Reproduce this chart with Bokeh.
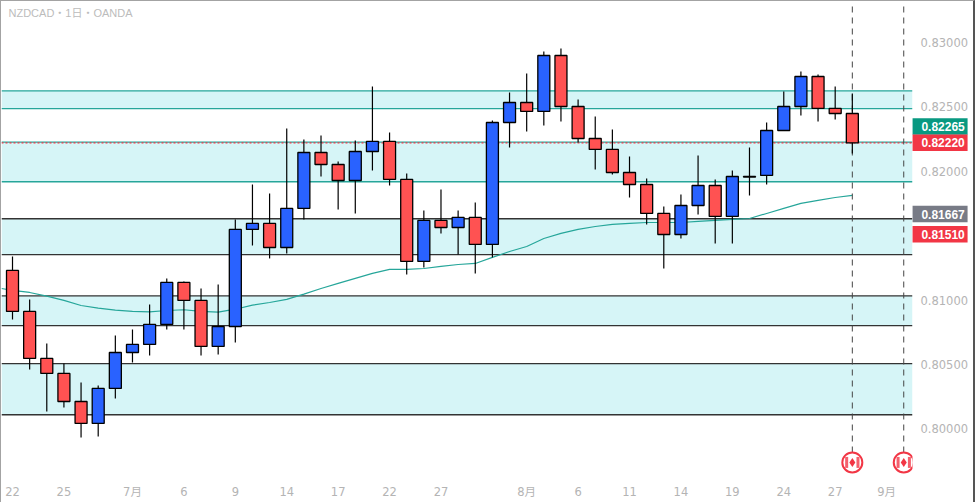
from bokeh.plotting import figure
from bokeh.embed import file_html
from bokeh.resources import INLINE
from bokeh.core.properties import value
from bokeh.models import FixedTicker, NumeralTickFormatter, ColumnDataSource, LinearAxis

opens = [0.81230,0.80912,0.80547,0.80431,0.80213,0.80043,0.80314,0.80593,0.80656,0.80811,
         0.81137,0.80997,0.80640,0.80795,0.81548,0.81595,0.81408,0.81711,0.82145,0.82052,
         0.81928,0.82153,0.82231,0.81936,0.81300,0.81618,0.81563,0.81641,0.81432,0.82378,
         0.82533,0.82464,0.82898,0.82502,0.82254,0.82169,0.81990,0.81897,0.81672,0.81509,
         0.81734,0.81889,0.81649,0.81955,0.81967,0.82316,0.82502,0.82735,0.82487,0.82448]
highs = [0.81338,0.81005,0.80663,0.80508,0.80361,0.80337,0.80725,0.80772,0.80966,0.81168,
         0.81144,0.81090,0.81121,0.81626,0.81897,0.81827,0.82332,0.82246,0.82277,0.82076,
         0.82239,0.82658,0.82301,0.81983,0.81695,0.81858,0.81695,0.81757,0.82394,0.82611,
         0.82759,0.82929,0.82953,0.82557,0.82425,0.82324,0.82114,0.81944,0.81726,0.81820,
         0.82122,0.81936,0.82006,0.82184,0.82378,0.82619,0.82774,0.82751,0.82658,0.82603]
lows = [0.80850,0.80462,0.80136,0.80167,0.79934,0.79942,0.80237,0.80516,0.80570,0.80772,
        0.80772,0.80570,0.80578,0.80671,0.81424,0.81323,0.81362,0.81626,0.81959,0.81703,
        0.81672,0.82006,0.81889,0.81199,0.81253,0.81517,0.81354,0.81207,0.81331,0.82184,
        0.82308,0.82355,0.82386,0.82223,0.82014,0.81975,0.81796,0.81587,0.81245,0.81478,
        0.81664,0.81439,0.81439,0.81812,0.81897,0.82316,0.82433,0.82386,0.82402,0.82138]
closes = [0.80912,0.80547,0.80431,0.80213,0.80043,0.80314,0.80593,0.80656,0.80811,0.81137,
          0.80997,0.80640,0.80795,0.81548,0.81595,0.81408,0.81711,0.82145,0.82052,0.81928,
          0.82153,0.82231,0.81936,0.81300,0.81618,0.81563,0.81641,0.81432,0.82378,0.82533,
          0.82464,0.82898,0.82502,0.82254,0.82169,0.81990,0.81897,0.81672,0.81509,0.81734,
          0.81889,0.81649,0.81959,0.81959,0.82316,0.82502,0.82735,0.82487,0.82448,0.82220]
ma_start = 0.81090
ma = [0.81075,0.81059,0.81030,0.80997,0.80958,0.80937,0.80922,0.80912,0.80909,0.80919,
      0.80925,0.80912,0.80906,0.80929,0.80961,0.80981,0.81005,0.81046,0.81090,0.81129,
      0.81168,0.81207,0.81238,0.81238,0.81245,0.81261,0.81276,0.81284,0.81331,0.81377,
      0.81416,0.81478,0.81517,0.81548,0.81571,0.81587,0.81595,0.81602,0.81602,0.81602,
      0.81610,0.81618,0.81626,0.81633,0.81672,0.81711,0.81750,0.81773,0.81796,0.81812]

zones = [(0.82624,0.82485,"#26a69a"),(0.82225,0.81918,"#26a69a"),(0.81631,0.81352,"#333333"),
         (0.81033,0.80801,"#333333"),(0.80506,0.80110,"#333333")]
y_ticks = [0.80,0.805,0.81,0.82,0.825,0.83]
x_ticks = [0,3,7,10,13,16,19,22,25,30,33,36,39,42,45,48,51]
x_labels = ["22","25","7月","6","9","14","17","22","27","8月","6","11","14","19","24","27","9月"]
event_x = [49,52]
event_low = 0.79817
event_y = 0.79740
tag_text = ["0.82265","0.82220","0.81667","0.81510"]
tag_y = [0.82347,0.82220,0.81667,0.81510]   # the scale stacks the first tag above the second
tag_col = ["#089981","#F23645","#787B86","#F23645"]

X0, X1 = -0.642, 56.07      # whole canvas
Y0, Y1 = 0.79429, 0.83317
PANEL = 52.51               # right edge of the price pane
AXIS_Y = 0.79623            # bottom edge of the price pane

p = figure(width=972, height=501, frame_width=972, frame_height=501,
           x_range=(X0,X1), y_range=(Y0,Y1), x_axis_location=None, y_axis_location=None,
           output_backend="svg", toolbar_location=None,
           min_border_left=0, min_border_top=0, min_border_right=0, min_border_bottom=0,
           margin=(0,0,0,0), outline_line_color=None,
           background_fill_color="white", border_fill_color="white")
p.styles = {"border-left":"1px solid #a3a3a3","border-top":"1px solid #a3a3a3","border-right":"2px solid #555555"}
p.grid.visible = False

for top, bottom, col in zones:
    p.quad(left=X0, right=PANEL, top=top, bottom=bottom, fill_color="#D6F5F7", line_color=None)
    p.segment([X0,X0],[top,bottom],[PANEL,PANEL],[top,bottom], line_color=col, line_width=1.3)
p.segment([X0],[closes[-1]],[PANEL],[closes[-1]], line_color="#F23645", line_width=1.2, line_dash="2 2")

p.line([X0]+list(range(len(ma))), [ma_start]+ma, line_color="#26a69a", line_width=1.2)
p.segment(event_x, [event_low]*2, event_x, [Y1]*2, line_color="#444444", line_width=1, line_dash="6 5")

idx = list(range(len(opens)))
p.segment(idx, lows, idx, highs, line_color="black", line_width=1.2)
up = [i for i in idx if closes[i] >= opens[i]]
dn = [i for i in idx if closes[i] < opens[i]]
for sel, col in ((up,"#2962FF"),(dn,"#FF5252")):
    src = ColumnDataSource(dict(x=sel, t=[max(opens[i],closes[i]) for i in sel], b=[min(opens[i],closes[i]) for i in sel]))
    p.vbar(x="x", top="t", bottom="b", width=0.7, source=src, fill_color=col, line_color="black", line_width=1.3)

p.scatter(event_x, [event_y]*2, marker="circle", size=20, fill_color="white", line_color="#F23645", line_width=2)
off = 0.33
p.rect([x-off for x in event_x]+[x+off for x in event_x], [event_y]*4, width=3, height=11,
       width_units="screen", height_units="screen", fill_color="#F4606D", line_color=None)
p.scatter(event_x, [event_y]*2, marker="diamond", size=9, fill_color="#F23645", line_color=None)

# right price scale panel masks anything that runs past the pane
p.quad(left=PANEL, right=X1, top=Y1, bottom=Y0, fill_color="white", line_color=None)
p.quad(left=X0, right=X1, top=AXIS_Y-0.00005, bottom=Y0, fill_color="white", line_color=None)

yax = LinearAxis(fixed_location=PANEL, ticker=FixedTicker(ticks=y_ticks),
                 formatter=NumeralTickFormatter(format="0.00000"))
xax = LinearAxis(fixed_location=AXIS_Y, ticker=FixedTicker(ticks=x_ticks),
                 major_label_overrides=dict(zip(x_ticks, x_labels)))
p.add_layout(yax, "right")
p.add_layout(xax, "below")
for a in (xax, yax):
    a.axis_line_color = None
    a.major_tick_line_color = None
    a.minor_tick_line_color = None
    a.major_tick_out = 0
    a.major_tick_in = 0
    a.major_label_text_color = "#b4b4b4"
    a.major_label_text_font = "DejaVu Sans, Noto Sans CJK JP"
    a.major_label_text_font_style = "normal"
    a.major_label_text_font_size = "11.5px"
yax.major_label_standoff = 8
xax.major_label_standoff = 7

p.text(x=[-0.233], y=[0.83224], text=["NZDCAD・1日・OANDA"], text_baseline="middle",
       text_color="#bcbcbc", text_font=value("Liberation Sans, Noto Sans CJK JP"), text_font_size="11px")
tags = ColumnDataSource(dict(y=tag_y, t=tag_text, c=tag_col, xb=[54.12]*4, xt=[53.03]*4))
p.rect(x="xb", y="y", width=55, height=16.5, width_units="screen", height_units="screen",
       fill_color="c", line_color=None, source=tags)
p.text(x="xt", y="y", text="t", text_baseline="middle", text_align="left", text_color="white",
       text_font=value("Liberation Sans"), text_font_style="bold", text_font_size="12px", source=tags)

open("out.html","w").write(file_html(p, INLINE))
